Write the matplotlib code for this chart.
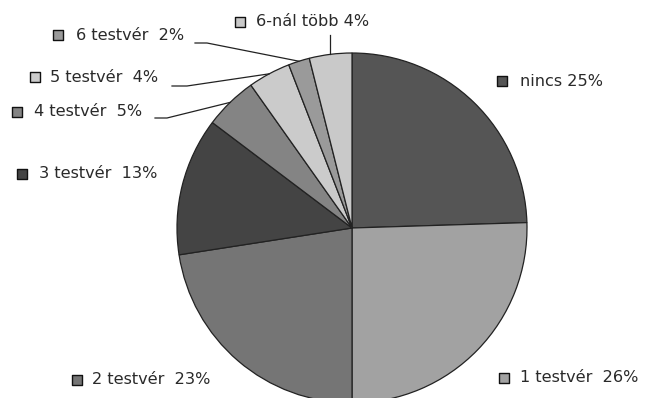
import numpy as np
import matplotlib
matplotlib.use("Agg")
import matplotlib.pyplot as plt

labels = ["nincs", "1 testvér", "2 testvér", "3 testvér",
          "4 testvér", "5 testvér", "6 testvér", "6-nál több"]
values = [25, 26, 23, 13, 5, 4, 2, 4]
colors = ["#555555", "#a2a2a2", "#757575", "#444444",
          "#848484", "#cbcbcb", "#9a9a9a", "#c9c9c9"]

W, H = 646, 398
fig = plt.figure(figsize=(W / 100, H / 100), dpi=100)
ax = fig.add_axes([0, 0, 1, 1])

cx, cy, r = 352, H - 228, 175
ax.pie(values, colors=colors, startangle=90, counterclock=False,
       center=(cx, cy), radius=r, frame=True,
       wedgeprops=dict(edgecolor="#222222", linewidth=0.9))
ax.set_xlim(0, W)
ax.set_ylim(0, H)
ax.set_aspect("equal")
ax.axis("off")

# label placement: (marker x, marker y, text x) from the top-left, plus leader elbow
label_pos = {
    "nincs": (502, 81, 520, None),
    "1 testvér": (504, 378, 520, None),
    "2 testvér": (77, 380, 92, None),
    "3 testvér": (22, 174, 39, None),
    "4 testvér": (17, 112, 34, (155, 118, 167)),
    "5 testvér": (35, 77, 50, (172, 86, 187)),
    "6 testvér": (58, 35, 76, (195, 43, 207)),
    "6-nál több": (240, 22, 256, "vertical"),
}

def fmt(name, v):
    if name in ("nincs", "6-nál több"):
        return f"{name} {v}%"
    return f"{name}  {v}%"

total = sum(values)
cum = 0
for name, v, col in zip(labels, values, colors):
    mid = 90 - (cum + v / 2) / total * 360
    cum += v
    ex = cx + r * np.cos(np.radians(mid))
    ey = cy + r * np.sin(np.radians(mid))
    mx, my, tx, lead = label_pos[name]
    ax.scatter([mx], [H - my], marker="s", s=46, facecolor=col,
               edgecolor="#111111", linewidth=1.0, zorder=5)
    ax.text(tx, H - my, fmt(name, v), fontsize=11.6, color="#2a2a2a",
            va="center", ha="left", family="DejaVu Sans")
    if lead == "vertical":
        ax.plot([ex, ex], [ey, H - 35], color="#222222", lw=0.9)
    elif lead is not None:
        x0, y0, x1 = lead
        ax.plot([x0, x1, ex], [H - y0, H - y0, ey], color="#222222", lw=0.9)

fig.savefig("out.png", dpi=100, facecolor="white")
